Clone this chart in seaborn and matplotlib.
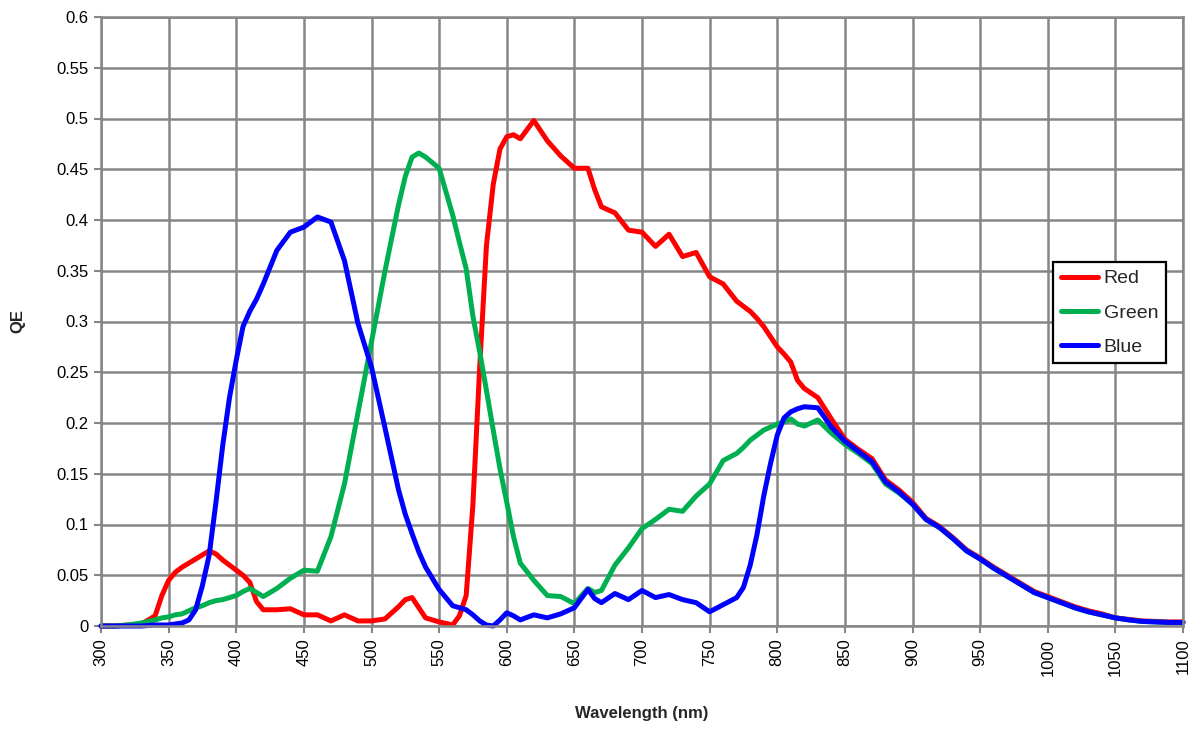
import matplotlib
matplotlib.use("Agg")
import matplotlib.pyplot as plt
import seaborn as sns
import pandas as pd
from matplotlib.ticker import FixedLocator, FixedFormatter

# ---------------- data ----------------
wavelength = [300, 310, 320, 330, 340, 345, 350, 355, 360, 365, 370, 375, 380, 385, 390, 395,
              400, 405, 410, 415, 420, 430, 440, 450, 460, 470, 480, 490, 500, 510, 520, 525,
              530, 535, 540, 550, 560, 565, 570, 575, 580, 585, 590, 595, 600, 605, 610, 620,
              630, 640, 650, 660, 665, 670, 680, 690, 700, 710, 720, 730, 740, 750, 760, 770,
              775, 780, 785, 790, 795, 800, 805, 810, 815, 820, 830, 840, 850, 860, 870, 880,
              890, 900, 910, 920, 930, 940, 950, 960, 970, 980, 990, 1000, 1010, 1020, 1030,
              1040, 1050, 1060, 1070, 1080, 1090, 1100]

red = [0.0, 0.0, 0.001, 0.002, 0.010, 0.030, 0.045, 0.053, 0.058, 0.062, 0.066, 0.070, 0.074, 0.071, 0.065, 0.060,
       0.055, 0.050, 0.043, 0.024, 0.016, 0.016, 0.017, 0.011, 0.011, 0.005, 0.011, 0.005, 0.005, 0.007, 0.019, 0.026,
       0.028, 0.018, 0.008, 0.004, 0.001, 0.010, 0.030, 0.120, 0.255, 0.375, 0.435, 0.470, 0.482, 0.484, 0.480, 0.498,
       0.478, 0.463, 0.451, 0.451, 0.430, 0.413, 0.407, 0.390, 0.388, 0.374, 0.386, 0.364, 0.368, 0.344, 0.337, 0.320,
       0.315, 0.310, 0.303, 0.295, 0.285, 0.275, 0.268, 0.260, 0.242, 0.234, 0.225, 0.204, 0.184, 0.174, 0.165, 0.144,
       0.134, 0.122, 0.106, 0.098, 0.087, 0.075, 0.067, 0.058, 0.050, 0.042, 0.034, 0.029, 0.024, 0.019, 0.015,
       0.012, 0.008, 0.0065, 0.005, 0.0045, 0.004, 0.004]

green = [0.0, 0.0, 0.001, 0.003, 0.006, 0.008, 0.009, 0.011, 0.012, 0.015, 0.018, 0.020, 0.023, 0.025, 0.026, 0.028,
         0.030, 0.034, 0.037, 0.033, 0.029, 0.037, 0.047, 0.055, 0.054, 0.088, 0.140, 0.210, 0.280, 0.350, 0.415, 0.443,
         0.462, 0.466, 0.462, 0.451, 0.405, 0.378, 0.352, 0.305, 0.270, 0.232, 0.193, 0.155, 0.122, 0.088, 0.062, 0.045,
         0.030, 0.029, 0.022, 0.037, 0.033, 0.035, 0.060, 0.077, 0.096, 0.105, 0.115, 0.113, 0.128, 0.140, 0.163, 0.170,
         0.176, 0.183, 0.188, 0.193, 0.196, 0.199, 0.201, 0.204, 0.199, 0.197, 0.203, 0.190, 0.179, 0.170, 0.160, 0.140,
         0.131, 0.120, 0.105, 0.097, 0.086, 0.074, 0.066, 0.057, 0.049, 0.041, 0.033, 0.028, 0.023, 0.018, 0.014,
         0.011, 0.008, 0.006, 0.0045, 0.004, 0.0035, 0.0035]

blue = [0.0, 0.0, 0.0, 0.0, 0.001, 0.001, 0.001, 0.002, 0.003, 0.006, 0.016, 0.040, 0.070, 0.122, 0.178, 0.225,
        0.262, 0.295, 0.310, 0.322, 0.337, 0.370, 0.388, 0.393, 0.403, 0.398, 0.360, 0.298, 0.255, 0.195, 0.134, 0.110,
        0.091, 0.073, 0.058, 0.036, 0.020, 0.018, 0.016, 0.011, 0.005, 0.001, 0.000, 0.006, 0.013, 0.010, 0.006, 0.011,
        0.008, 0.012, 0.018, 0.036, 0.027, 0.023, 0.032, 0.026, 0.035, 0.028, 0.031, 0.026, 0.023, 0.014, 0.021, 0.028,
        0.038, 0.060, 0.090, 0.128, 0.160, 0.188, 0.205, 0.211, 0.214, 0.216, 0.215, 0.196, 0.182, 0.172, 0.162, 0.142,
        0.132, 0.120, 0.105, 0.097, 0.086, 0.074, 0.066, 0.057, 0.049, 0.041, 0.033, 0.028, 0.023, 0.018, 0.014,
        0.011, 0.008, 0.006, 0.0045, 0.004, 0.0035, 0.0035]

series_names = ["Red", "Green", "Blue"]
series_colors = ["#FF0000", "#00B050", "#0000FF"]

x_ticks = list(range(300, 1101, 50))
y_ticks = [0, 0.05, 0.1, 0.15, 0.2, 0.25, 0.3, 0.35, 0.4, 0.45, 0.5, 0.55, 0.6]
y_tick_labels = ["0", "0.05", "0.1", "0.15", "0.2", "0.25", "0.3", "0.35", "0.4", "0.45", "0.5", "0.55", "0.6"]
x_label = "Wavelength (nm)"
y_label = "QE"

# ---------------- figure ----------------
sns.set_style("white")
plt.rcParams["font.family"] = ["Liberation Sans", "DejaVu Sans"]

frames = []
for name, vals in zip(series_names, [red, green, blue]):
    frames.append(pd.DataFrame({"Wavelength": wavelength, "QE": vals, "Channel": name}))
df = pd.concat(frames, ignore_index=True)

fig = plt.figure(figsize=(11.99, 7.32), dpi=100)
ax = fig.add_axes([101 / 1199, 1 - 626 / 732, (1183 - 101) / 1199, (626 - 17) / 732])

sns.lineplot(data=df, x="Wavelength", y="QE", hue="Channel", hue_order=series_names,
             palette=dict(zip(series_names, series_colors)), linewidth=3.6, ax=ax,
             estimator=None, sort=False, legend=True)

for ln in ax.lines:
    ln.set_clip_on(False)
    ln.set_solid_joinstyle("round")
    ln.set_solid_capstyle("round")

grid_color = "#868686"
ax.set_xlim(300, 1100)
ax.set_ylim(0, 0.6)
ax.xaxis.set_major_locator(FixedLocator(x_ticks))
ax.xaxis.set_major_formatter(FixedFormatter([str(v) for v in x_ticks]))
ax.yaxis.set_major_locator(FixedLocator(y_ticks))
ax.yaxis.set_major_formatter(FixedFormatter(y_tick_labels))
ax.grid(True, color=grid_color, linewidth=1.8)
ax.set_axisbelow(True)
for s in ax.spines.values():
    s.set_color(grid_color)
    s.set_linewidth(1.8)
ax.tick_params(axis="both", which="major", direction="out", length=5, width=1.5,
               color=grid_color, labelsize=12, labelcolor="black", pad=4,
               bottom=True, left=True)
plt.setp(ax.get_xticklabels(), rotation=90)

ax.set_xlabel(x_label, fontsize=12, fontweight="bold", labelpad=22)
ax.set_ylabel(y_label, fontsize=12, fontweight="bold", labelpad=22)

leg = ax.legend(loc="upper left", bbox_to_anchor=(1053 / 1199, 1 - 262 / 732),
                bbox_transform=fig.transFigure, frameon=True, fancybox=False,
                fontsize=14, handlelength=1.9, handletextpad=0.3, labelspacing=0.85,
                borderpad=0.4, borderaxespad=0)
leg.get_frame().set_edgecolor("black")
leg.get_frame().set_linewidth(1.6)
leg.get_frame().set_facecolor("white")
leg.get_frame().set_alpha(1)
for lh in leg.get_lines():
    lh.set_linewidth(3.6)

fig.savefig("out.png", dpi=100)
